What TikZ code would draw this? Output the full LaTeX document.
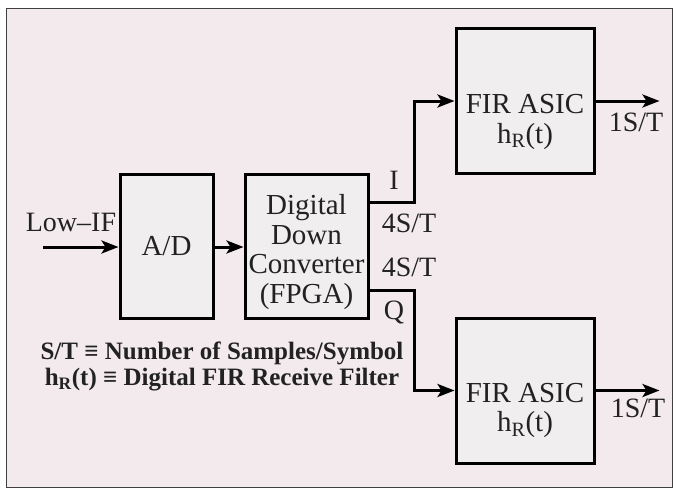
\documentclass[tikz,border=0pt]{standalone}
\usepackage{fontspec}
\setmainfont{Liberation Serif}
\usepackage{tikz}
\usetikzlibrary{arrows.meta,positioning,calc}
\definecolor{paper}{HTML}{F3EAEE}
\definecolor{boxfill}{HTML}{F1EEEF}
\definecolor{ink}{HTML}{222222}
\tikzset{
  blk/.style={rectangle, draw=black, line width=3pt, fill=boxfill, align=center, inner sep=0pt},
  sig/.style={-{Stealth[length=17pt, width=13pt, inset=4pt]}, line width=3pt},
  lbl/.style={inner sep=0pt, font=\fontsize{28}{29}\selectfont},
  note/.style={inner sep=0pt, font=\fontsize{25}{27}\selectfont\bfseries}
}
\begin{document}
\begin{tikzpicture}[x=1pt, y=-1pt, every node/.style={font=\fontsize{29}{29.5}\selectfont, text=ink}]
\useasboundingbox (0,0) rectangle (678,493);
\fill[white] (0,0) rectangle (678,493);
\draw[fill=paper, draw=black!75, line width=1pt] (6,8) rectangle (672,487);
\node[blk, minimum width=93pt, minimum height=144pt] (ad) at (166.5,246) {A/D};
\node[blk, minimum width=123pt, minimum height=144pt, right=29pt of ad] (ddc) {};
\node[align=center, inner sep=0pt] (ddctxt) at ($(ddc.center)+(0,6)$) {Digital\\Down\\Converter\\(FPGA)};
\node[blk, minimum width=138pt, minimum height=145pt] (firI) at (525,101) {};
\node[blk, minimum width=138pt, minimum height=145pt] (firQ) at (525,390.5) {};
\node[align=center, inner sep=0pt] (firItxt) at ($(firI.center)+(0,21)$) {FIR ASIC\\h\textsubscript{R}(t)};
\node[align=center, inner sep=0pt] (firQtxt) at ($(firQ.center)+(0,20)$) {FIR ASIC\\h\textsubscript{R}(t)};
\coordinate (in) at (43,247);
\coordinate (outI) at ($(firI.east)+(64,0)$);
\coordinate (outQ) at ($(firQ.east)+(64,0)$);
\draw[sig] (in) -- (in -| ad.west);
\draw[sig] (ad.east |- 0,247) -- (ddc.west |- 0,247);
\draw[sig] ($(ddc.east)+(0,-44)$) -- ++(45,0) |- (firI.west);
\draw[sig] ($(ddc.east)+(0,44)$) -- ++(45,0) |- (firQ.west);
\draw[sig] (firI.east) -- (outI);
\draw[sig] (firQ.east) -- (outQ);
\node[lbl] (lowif) at (71,222) {Low--IF};
\node[lbl] (ilbl) at (394,180) {I};
\node[lbl] (rateI) at (409,223) {4S/T};
\node[lbl] (rateQ) at (409,267) {4S/T};
\node[lbl] (qlbl) at (394,312) {Q};
\node[lbl] (symI) at (636,122) {1S/T};
\node[lbl] (symQ) at (638,408) {1S/T};
\node[note] (key1) at (222,353) {S/T ≡ Number of Samples/Symbol};
\node[note] (key2) at (222,380) {h\textsubscript{R}(t) ≡ Digital FIR Receive Filter};
\end{tikzpicture}
\end{document}
